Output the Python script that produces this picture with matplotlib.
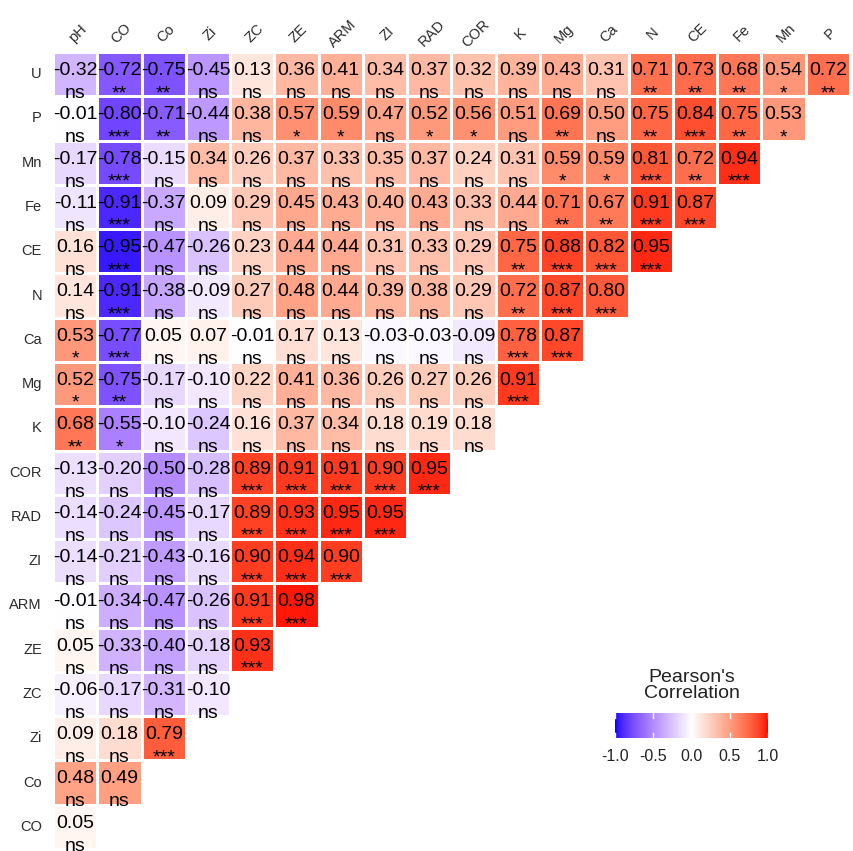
import numpy as np
import matplotlib.pyplot as plt
from matplotlib.colors import ListedColormap

plt.rcParams['font.family'] = ['Liberation Sans', 'DejaVu Sans']

row_labels = ['U', 'P', 'Mn', 'Fe', 'CE', 'N', 'Ca', 'Mg', 'K', 'COR', 'RAD', 'ZI',
              'ARM', 'ZE', 'ZC', 'Zi', 'Co', 'CO']
col_labels = ['pH', 'CO', 'Co', 'Zi', 'ZC', 'ZE', 'ARM', 'ZI', 'RAD', 'COR', 'K', 'Mg',
              'Ca', 'N', 'CE', 'Fe', 'Mn', 'P']

# correlation per row (left to right, lower triangle only)
r_values = [
    [-0.32, -0.72, -0.75, -0.45, 0.13, 0.36, 0.41, 0.34, 0.37, 0.32, 0.39, 0.43, 0.31, 0.71, 0.73, 0.68, 0.54, 0.72],
    [-0.01, -0.80, -0.71, -0.44, 0.38, 0.57, 0.59, 0.47, 0.52, 0.56, 0.51, 0.69, 0.50, 0.75, 0.84, 0.75, 0.53],
    [-0.17, -0.78, -0.15, 0.34, 0.26, 0.37, 0.33, 0.35, 0.37, 0.24, 0.31, 0.59, 0.59, 0.81, 0.72, 0.94],
    [-0.11, -0.91, -0.37, 0.09, 0.29, 0.45, 0.43, 0.40, 0.43, 0.33, 0.44, 0.71, 0.67, 0.91, 0.87],
    [0.16, -0.95, -0.47, -0.26, 0.23, 0.44, 0.44, 0.31, 0.33, 0.29, 0.75, 0.88, 0.82, 0.95],
    [0.14, -0.91, -0.38, -0.09, 0.27, 0.48, 0.44, 0.39, 0.38, 0.29, 0.72, 0.87, 0.80],
    [0.53, -0.77, 0.05, 0.07, -0.01, 0.17, 0.13, -0.03, -0.03, -0.09, 0.78, 0.87],
    [0.52, -0.75, -0.17, -0.10, 0.22, 0.41, 0.36, 0.26, 0.27, 0.26, 0.91],
    [0.68, -0.55, -0.10, -0.24, 0.16, 0.37, 0.34, 0.18, 0.19, 0.18],
    [-0.13, -0.20, -0.50, -0.28, 0.89, 0.91, 0.91, 0.90, 0.95],
    [-0.14, -0.24, -0.45, -0.17, 0.89, 0.93, 0.95, 0.95],
    [-0.14, -0.21, -0.43, -0.16, 0.90, 0.94, 0.90],
    [-0.01, -0.34, -0.47, -0.26, 0.91, 0.98],
    [0.05, -0.33, -0.40, -0.18, 0.93],
    [-0.06, -0.17, -0.31, -0.10],
    [0.09, 0.18, 0.79],
    [0.48, 0.49],
    [0.05],
]

sig_labels = [
    'ns ** ** ns ns ns ns ns ns ns ns ns ns ** ** ** * **'.split(),
    'ns *** ** ns ns * * ns * * ns ** ns ** *** ** *'.split(),
    'ns *** ns ns ns ns ns ns ns ns ns * * *** ** ***'.split(),
    'ns *** ns ns ns ns ns ns ns ns ns ** ** *** ***'.split(),
    'ns *** ns ns ns ns ns ns ns ns ** *** *** ***'.split(),
    'ns *** ns ns ns ns ns ns ns ns ** *** ***'.split(),
    '* *** ns ns ns ns ns ns ns ns *** ***'.split(),
    '* ** ns ns ns ns ns ns ns ns ***'.split(),
    '** * ns ns ns ns ns ns ns ns'.split(),
    'ns ns ns ns *** *** *** *** ***'.split(),
    'ns ns ns ns *** *** *** ***'.split(),
    'ns ns ns ns *** *** ***'.split(),
    'ns ns ns ns *** ***'.split(),
    'ns ns ns ns ***'.split(),
    'ns ns ns ns'.split(),
    'ns ns ***'.split(),
    'ns ns'.split(),
    'ns'.split(),
]


# blue-white-red gradient interpolated in Lab space (like ggplot's gradient2)
M = np.array([[0.4124, 0.3576, 0.1805], [0.2126, 0.7152, 0.0722], [0.0193, 0.1192, 0.9505]])
WHITE = np.array([0.95047, 1.0, 1.08883])


def to_lab(rgb):
    rgb = np.asarray(rgb, float)
    lin = np.where(rgb <= 0.04045, rgb / 12.92, ((rgb + 0.055) / 1.055) ** 2.4)
    xyz = lin @ M.T / WHITE
    d = 6 / 29
    f = np.where(xyz > d ** 3, np.cbrt(xyz), xyz / (3 * d ** 2) + 4 / 29)
    return np.stack([116 * f[..., 1] - 16, 500 * (f[..., 0] - f[..., 1]), 200 * (f[..., 1] - f[..., 2])], -1)


def from_lab(lab):
    L, a, b = lab[..., 0], lab[..., 1], lab[..., 2]
    fy = (L + 16) / 116
    f = np.stack([fy + a / 500, fy, fy - b / 200], -1)
    d = 6 / 29
    xyz = np.where(f > d, f ** 3, 3 * d ** 2 * (f - 4 / 29)) * WHITE
    lin = np.clip(xyz @ np.linalg.inv(M).T, 0, 1)
    rgb = np.where(lin <= 0.0031308, lin * 12.92, 1.055 * lin ** (1 / 2.4) - 0.055)
    return np.clip(rgb, 0, 1)


lo, mid, hi = to_lab([0, 0, 1]), to_lab([1, 1, 1]), to_lab([1, 0, 0])
t = np.linspace(0, 1, 512)[:, None]
labs = np.where(t < 0.5, lo + (mid - lo) * (t / 0.5), mid + (hi - mid) * ((t - 0.5) / 0.5))
cmap = ListedColormap(from_lab(labs))

n = len(row_labels)
grid = np.full((n, len(col_labels)), np.nan)
for i, row in enumerate(r_values):
    grid[i, :len(row)] = row

W, H = 854, 851
fig = plt.figure(figsize=(W / 100, H / 100), dpi=100)
ax = fig.add_axes([53 / W, 1 - 849 / H, 797 / W, 797 / H])
ax.pcolormesh(np.arange(len(col_labels) + 1), np.arange(n + 1), np.ma.masked_invalid(grid),
              cmap=cmap, vmin=-1, vmax=1, edgecolors='white', linewidth=0.75)
ax.set_xlim(0, len(col_labels))
ax.set_ylim(n, 0)
ax.axis('off')

cell = 797 / 18
for i, row in enumerate(r_values):
    for j, v in enumerate(row):
        ax.text(j + 0.5, i + 23 / cell, f'{v:.2f}', ha='center', va='baseline', fontsize=14, color='black')
        ax.text(j + 0.5, i + 46 / cell, sig_labels[i][j], ha='center', va='baseline', fontsize=14,
                color='black', clip_on=False)

for i, lbl in enumerate(row_labels):
    ax.text(-0.25, i + 0.5, lbl, ha='right', va='center', fontsize=10.5, color='#2b2b2b')
for j, lbl in enumerate(col_labels):
    ax.text(j + 0.55, -0.42, lbl, ha='center', va='center', rotation=45, fontsize=10.5, color='#2b2b2b')

# legend colour bar
cax = fig.add_axes([615 / W, 1 - 738 / H, 153 / W, 25 / H])
cax.imshow(np.linspace(-1, 1, 300)[None, :], aspect='auto', cmap=cmap, vmin=-1, vmax=1,
           extent=[-1, 1, 0, 1])
cax.set_xlim(-1, 1)
cax.set_ylim(0, 1)
cax.axis('off')
for tv in [-1.0, -0.5, 0.0, 0.5, 1.0]:
    cax.plot([tv, tv], [0, 0.2], color='white', lw=1)
    cax.plot([tv, tv], [0.8, 1], color='white', lw=1)
    cax.text(tv, -0.75, f'{tv:.1f}', ha='center', va='center', fontsize=11.5, color='#222222')
cax.text(0, 2.1, "Pearson's\nCorrelation", ha='center', va='center', fontsize=14,
         color='#222222', linespacing=1.0)

fig.savefig('out.png', dpi=100)
